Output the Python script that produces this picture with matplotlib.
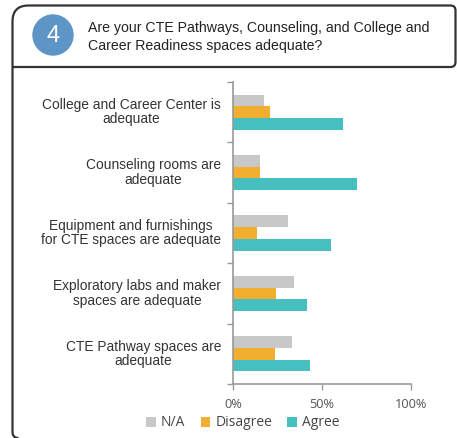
import matplotlib
matplotlib.use("Agg")
import matplotlib.pyplot as plt
import numpy as np
from matplotlib.path import Path
from matplotlib.patches import PathPatch, Circle
import matplotlib.transforms as mtransforms

categories = [
    "College and Career Center is\nadequate",
    "Counseling rooms are\nadequate",
    "Equipment and furnishings\nfor CTE spaces are adequate",
    "Exploratory labs and maker\nspaces are adequate",
    "CTE Pathway spaces are\nadequate",
]
series_names = ["N/A", "Disagree", "Agree"]
na_vals = [17.6, 15.0, 30.9, 34.4, 33.3]
disagree_vals = [20.6, 15.0, 13.7, 24.2, 23.4]
agree_vals = [61.8, 69.8, 55.2, 41.4, 43.4]
xticks = [0, 50, 100]
xtick_labels = ["0%", "50%", "100%"]
title = "Are your CTE Pathways, Counseling, and College and\nCareer Readiness spaces adequate?"
badge = "4"

colors = ["#c8c8c8", "#f2ae2e", "#45bfbf"]

W, H = 457, 438
fig = plt.figure(figsize=(W / 100, H / 100), dpi=100)

# overlay for frame
bg = fig.add_axes([0, 0, 1, 1])
bg.set_xlim(0, W)
bg.set_ylim(H, 0)
bg.axis("off")

def rounded_path(pts_codes):
    verts, codes = zip(*pts_codes)
    return Path(list(verts), list(codes))

L, T, R, B = 12.5, 5.5, 455.5, 67.0
rl, rs = 16, 5
header = rounded_path([
    ((L, B), Path.MOVETO),
    ((L, T + rl), Path.LINETO),
    ((L, T), Path.CURVE3), ((L + rl, T), Path.CURVE3),
    ((R - rs, T), Path.LINETO),
    ((R, T), Path.CURVE3), ((R, T + rs), Path.CURVE3),
    ((R, B - rs), Path.LINETO),
    ((R, B), Path.CURVE3), ((R - rs, B), Path.CURVE3),
    ((L, B), Path.LINETO),
])
bg.add_patch(PathPatch(header, fill=False, edgecolor="#333333", lw=1.6))
body = rounded_path([
    ((L, B), Path.MOVETO),
    ((L, 432), Path.LINETO),
    ((L, 438), Path.CURVE3), ((L + 6, 438), Path.CURVE3),
])
bg.add_patch(PathPatch(body, fill=False, edgecolor="#333333", lw=1.6))
bg.add_patch(Circle((53, 35), 20, color="#5d95c6"))
bg.text(53, 36, badge, color="white", fontsize=17, ha="center", va="center",
        family="Liberation Sans")
bg.text(88, 37, title, color="#222222", fontsize=10.2, ha="left", va="center",
        family="Liberation Sans", linespacing=1.3)

# main chart
ax = fig.add_axes([233 / W, 1 - 384 / H, (411 - 233) / W, (384 - 82) / H])
y = np.arange(len(categories))
h = 0.194
for i, (vals, name) in enumerate(zip([na_vals, disagree_vals, agree_vals], series_names)):
    ax.barh(y + (i - 1) * h, vals, height=h, color=colors[i], label=name)
ax.set_xlim(0, 100)
ax.set_ylim(len(categories) - 0.5, -0.5)
ax.set_yticks(y)
ax.set_yticklabels([])
ax.tick_params(axis="y", which="major", length=0)
trans = mtransforms.blended_transform_factory(
    ax.transAxes + mtransforms.ScaledTranslation(-12 / 100, 0, fig.dpi_scale_trans),
    ax.transData)
for yi, lab in zip(y, categories):
    ax.text(0, yi, lab, transform=trans, ha="right", va="center",
            multialignment="center", fontsize=9.95, color="#333333",
            family="Liberation Sans", linespacing=1.05)
ax.set_yticks(np.arange(-0.5, len(categories), 1.0), minor=True)
ax.tick_params(axis="y", which="minor", length=4, color="#999999", width=1)
ax.set_xticks(xticks)
ax.set_xticklabels(xtick_labels, fontsize=9.2, color="#555555", family="Open Sans")
ax.tick_params(axis="x", length=4, color="#999999", width=1, pad=6)
for s in ["top", "right"]:
    ax.spines[s].set_visible(False)
for s in ["left", "bottom"]:
    ax.spines[s].set_color("#999999")
    ax.spines[s].set_linewidth(1.2)

leg = fig.legend(loc="center", bbox_to_anchor=(243 / W, 1 - 423 / H), ncol=3,
                 frameon=False, handlelength=0.7, handleheight=0.7,
                 handletextpad=0.35, columnspacing=1.1,
                 prop={"family": "Open Sans", "size": 10})
for t in leg.get_texts():
    t.set_color("#444444")

fig.savefig("out.png", dpi=100)
